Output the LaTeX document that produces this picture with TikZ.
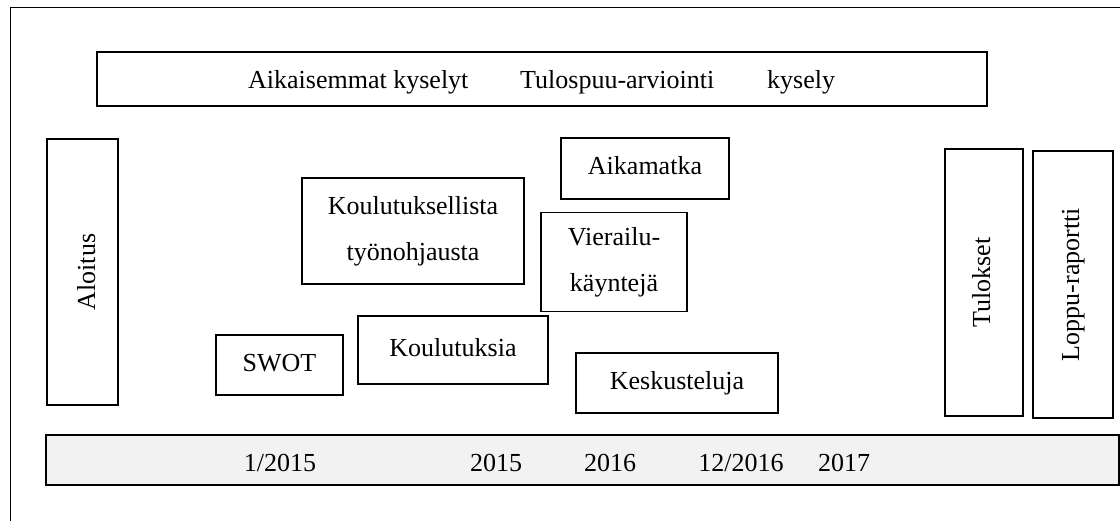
\documentclass[tikz,border=0pt]{standalone}
\usepackage{fontspec}
\setmainfont{Liberation Serif}
\definecolor{barfill}{HTML}{F2F2F2}
\begin{document}
\begin{tikzpicture}[x=1pt,y=-1pt,
  every node/.style={font=\fontsize{26}{46}\selectfont},
  box/.style={draw, line width=1.8pt, inner sep=0pt, align=center},
  onebox/.style={box, text height=17pt, text depth=5pt},
  lbl/.style={inner sep=0pt, anchor=base}]
\useasboundingbox (0,0) rectangle (1120,520);
\clip (0,0) rectangle (1120,520);
% outer frame
\draw[line width=1pt] (10,540) -- (10,7) -- (1140,7);

% survey band
\node[box, minimum width=890pt, minimum height=54pt] (survey) at (542,79) {};
\node[lbl, anchor=base west] (s1) at (248,88) {Aikaisemmat kyselyt};
\node[lbl, anchor=base west] (s2) at (520,88) {Tulospuu-arviointi};
\node[lbl, anchor=base west] (s3) at (767,88) {kysely};

% start and end columns
\node[box, minimum width=71pt, minimum height=266pt] (aloitus) at (82.5,272) {};
\node[lbl, rotate=90] (aloitus-text) at (95,272) {Aloitus};
\node[onebox, rotate=90, minimum width=267pt, minimum height=78pt] (tulokset) at (984,282.5) {Tulokset};
\node[onebox, rotate=90, minimum width=267pt, minimum height=80pt] (loppu) at (1073,284.5) {Loppu-raportti};

% activities
\node[onebox, minimum width=127pt, minimum height=60pt] (swot) at (279.5,365) {SWOT};
\node[box, minimum width=222pt, minimum height=106pt] (tyonohjaus) at (413,231) {Koulutuksellista\\työnohjausta};
\node[onebox, minimum width=190pt, minimum height=68pt] (koulutuksia) at (453,350) {Koulutuksia};
\node[onebox, minimum width=168pt, minimum height=61pt] (aikamatka) at (645,168.5) {Aikamatka};
\node[box, minimum width=146pt, minimum height=99pt] (vierailu) at (614,262) {Vierailu-\\käyntejä};
\node[onebox, minimum width=202pt, minimum height=60pt] (keskustelu) at (677,383) {Keskusteluja};

% time line
\node[box, fill=barfill, minimum width=1073pt, minimum height=50pt] (timeline) at (582.5,460) {};
\node[lbl] (t1) at (280,471) {1/2015};
\node[lbl] (t2) at (496,471) {2015};
\node[lbl] (t3) at (610,471) {2016};
\node[lbl] (t4) at (741,471) {12/2016};
\node[lbl] (t5) at (844,471) {2017};
\end{tikzpicture}
\end{document}
